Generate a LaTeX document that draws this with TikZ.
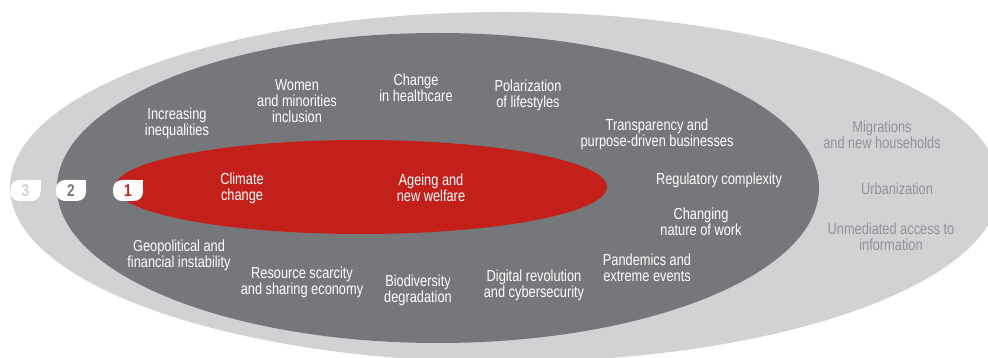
\documentclass[tikz,border=0pt]{standalone}
\usepackage{fontspec}
\setmainfont{Liberation Sans}[FakeStretch=0.8]
\usepackage{tikz}
\usetikzlibrary{positioning}

\definecolor{ringlight}{HTML}{D1D2D4}
\definecolor{ringdark}{HTML}{76777B}
\definecolor{ringred}{HTML}{C3201B}
\definecolor{outertext}{HTML}{929397}

\tikzstyle{lbl} = [align=center, inner sep=0pt, font=\fontsize{16}{16}\selectfont]
\tikzstyle{lblin} = [lbl, text=white]
\tikzstyle{lblout} = [lbl, text=outertext]
\tikzstyle{badge} = [rectangle, rounded corners=9pt, fill=white, minimum width=30pt,
                     minimum height=21pt, inner sep=0pt, font=\fontsize{17}{17}\selectfont\bfseries]

\begin{document}
\begin{tikzpicture}[x=1pt, y=-1pt]
  \clip (0,0) rectangle (988,358);

  % the three rings
  \fill [ringlight] (505,187) ellipse [x radius=495pt, y radius=175pt];
  \fill [ringdark] (438,188) ellipse [x radius=381pt, y radius=155pt];
  \fill [ringred] (361,187) ellipse [x radius=246pt, y radius=47pt];

  % ring numbers
  \foreach \n/\x/\c in {3/25.5/ringlight, 2/71/ringdark, 1/128/ringred} {
    \node (b\n) [badge, text=\c] at (\x,190.5) {\n};
    \fill [white] (b\n.north east) rectangle ++(-10,10);
  }

  % ring 1
  \node (climate) [lblin] at (242,188) {Climate\\change};
  \node (ageing) [lblin] at (431,188) {Ageing and\\new welfare};

  % ring 2
  \node (inequal) [lblin] at (177,123) {Increasing\\inequalities};
  \node (women) [lblin] at (297,101) {Women\\and minorities\\inclusion};
  \node (health) [lblin] at (416,88) {Change\\in healthcare};
  \node (polar) [lblin] at (528,95) {Polarization\\of lifestyles};
  \node (transp) [lblin] at (657,134) {Transparency and\\purpose-driven businesses};
  \node (regul) [lblin] at (719,180) {Regulatory complexity};
  \node (work) [lblin] at (701,222) {Changing\\nature of work};
  \node (geo) [lblin] at (179,255) {Geopolitical and\\financial instability};
  \node (resource) [lblin] at (302,282) {Resource scarcity\\and sharing economy};
  \node (biodiv) [lblin] at (418,290) {Biodiversity\\degradation};
  \node (digital) [lblin] at (534,285) {Digital revolution\\and cybersecurity};
  \node (pandemic) [lblin] at (647,268) {Pandemics and\\extreme events};

  % ring 3
  \node (migr) [lblout] at (882,135) {Migrations\\and new households};
  \node (urban) [lblout] at (897,189) {Urbanization};
  \node (access) [lblout] at (891,237) {Unmediated access to\\information};
\end{tikzpicture}
\end{document}
